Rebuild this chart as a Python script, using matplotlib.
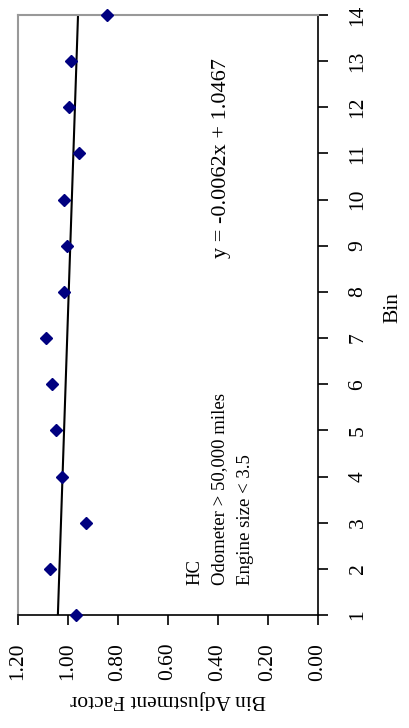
import matplotlib
matplotlib.use("Agg")
import matplotlib.pyplot as plt
import numpy as np

plt.rcParams['font.family'] = ['Liberation Serif', 'DejaVu Serif']

bins = [1, 2, 3, 4, 5, 6, 7, 8, 9, 10, 11, 12, 13, 14]
factors = [0.968, 1.072, 0.928, 1.024, 1.048, 1.064, 1.088, 1.016, 1.004, 1.017, 0.957, 0.995, 0.988, 0.844]
slope = -0.0062
intercept = 1.0467
factor_ticks = [1.20, 1.00, 0.80, 0.60, 0.40, 0.20, 0.00]
bin_ticks = list(range(1, 15))

W, H = 409, 728
fig = plt.figure(figsize=(W / 100, H / 100), dpi=100)
ax = fig.add_axes([18 / W, 1 - 615 / H, 300 / W, 600 / H])

# rotated chart: factor on horizontal axis (inverted), bin on vertical axis
ax.plot(factors, bins, linestyle='none', marker='D', markersize=6,
        color='#000080', clip_on=False, zorder=3)
b_line = np.array([bins[0], bins[-1]])
ax.plot(slope * b_line + intercept, b_line, color='black', lw=1.5, zorder=2)

ax.set_xlim(1.2, 0.0)
ax.set_ylim(1, 14)
ax.set_xticks(factor_ticks)
ax.set_xticklabels([f"{v:.2f}" for v in factor_ticks], rotation=90, fontsize=15.5)
ax.set_yticks(bin_ticks)
ax.set_yticklabels([str(b) for b in bin_ticks], rotation=90, fontsize=15.5, va='center')
ax.yaxis.tick_right()
ax.yaxis.set_label_position('right')
ax.tick_params(axis='both', direction='out', length=7, width=1.2, color='black')
ax.tick_params(axis='x', pad=13)
ax.tick_params(axis='y', pad=15)

for s in ['left', 'top']:
    ax.spines[s].set_color('#999999')
    ax.spines[s].set_linewidth(1.5)
for s in ['right', 'bottom']:
    ax.spines[s].set_color('black')
    ax.spines[s].set_linewidth(1.2)

ax.set_xlabel('Bin Adjustment Factor', rotation=180, fontsize=15.5, labelpad=7)
ax.set_ylabel('Bin', rotation=90, fontsize=15.5, labelpad=12)
ax.yaxis.set_label_coords(1.217, 0.513)

ax.text(222 / W, 1 - 258 / H, 'y = -0.0062x + 1.0467', transform=fig.transFigure,
        rotation=90, fontsize=16, ha='center', va='bottom')
ax.text(195 / W, 1 - 585 / H, 'HC', transform=fig.transFigure,
        rotation=90, fontsize=13.5, ha='center', va='bottom')
ax.text(220 / W, 1 - 585 / H, 'Odometer > 50,000 miles', transform=fig.transFigure,
        rotation=90, fontsize=13.5, ha='center', va='bottom')
ax.text(245 / W, 1 - 585 / H, 'Engine size < 3.5', transform=fig.transFigure,
        rotation=90, fontsize=13.5, ha='center', va='bottom')

fig.savefig('out.png', dpi=100)
